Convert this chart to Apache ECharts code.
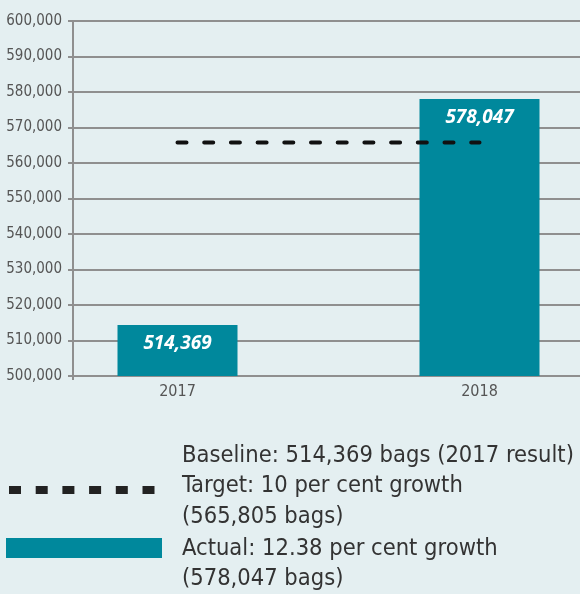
<!DOCTYPE html>
<html>
<head>
<meta charset="utf-8">
<script src="https://cdn.jsdelivr.net/npm/echarts@6/dist/echarts.min.js"></script>
<style>
html, body { margin: 0; padding: 0; background: #e4eff1; }
#chart { width: 580px; height: 594px; }
</style>
</head>
<body>
<div id="chart"></div>
<script>
// data
var years = [2017, 2018];
var bags = [514369, 578047];
var target = 565805;
var yTicks = [500000, 600000, 10000]; // min, max, step
var legendLines = [
    'Baseline: 514,369 bags (2017 result)',
    'Target: 10 per cent growth',
    '(565,805 bags)',
    'Actual: 12.38 per cent growth',
    '(578,047 bags)'
];

var teal = '#00889c';
var grey = '#8f8f8f';
var narrow = '"DejaVu Sans Condensed", sans-serif';

var xMin = 2017 - 104.5 / 302;
var xMax = 2017 + 402.5 / 302;

var myChart = echarts.init(document.getElementById('chart'));

// legend drawn by hand, text lines to the right of the two swatches
var legendY = [455, 485, 516, 548, 578];
var graphics = legendLines.map(function (t, i) {
    return {
        type: 'text', left: 182, top: legendY[i] - 11,
        style: { text: t, fill: '#333', font: '23.5px ' + narrow }
    };
});
graphics.push({
    type: 'line',
    shape: { x1: 9, y1: 490, x2: 162, y2: 490 },
    style: { stroke: '#222', lineWidth: 8, lineDash: [12, 14.7] }
});
graphics.push({
    type: 'rect',
    shape: { x: 6, y: 538, width: 156, height: 20 },
    style: { fill: teal }
});

myChart.setOption({
    backgroundColor: '#e4eff1',
    animation: false,
    grid: { left: 73, right: 0, top: 21, bottom: 218, containLabel: false, outerBoundsMode: 'none' },
    xAxis: {
        type: 'value',
        min: xMin,
        max: xMax,
        splitLine: { show: false },
        axisLine: { show: true, onZero: false, lineStyle: { color: grey, width: 2 } },
        axisTick: { show: true, customValues: [xMin], length: 4, lineStyle: { color: grey, width: 2 } },
        axisLabel: {
            customValues: years,
            formatter: function (v) { return String(v); },
            color: '#555',
            fontFamily: narrow,
            fontSize: 16,
            margin: 8
        }
    },
    yAxis: {
        type: 'value',
        min: yTicks[0],
        max: yTicks[1],
        interval: yTicks[2],
        axisLine: { show: true, lineStyle: { color: grey, width: 2 } },
        axisTick: { show: true, length: 5, lineStyle: { color: grey, width: 2 } },
        splitLine: { show: true, lineStyle: { color: grey, width: 2 } },
        axisLabel: {
            color: '#555',
            fontFamily: narrow,
            fontSize: 15,
            margin: 11,
            formatter: function (v) { return v.toLocaleString('en-US'); }
        }
    },
    series: [
        {
            type: 'bar',
            barWidth: 120,
            itemStyle: { color: teal },
            data: years.map(function (y, i) { return [y, bags[i]]; }),
            label: {
                show: true,
                position: 'insideTop',
                distance: 9,
                color: '#fff',
                fontFamily: '"Open Sans", sans-serif',
                fontStyle: 'italic',
                fontWeight: 'bold',
                fontSize: 19,
                formatter: function (p) { return p.value[1].toLocaleString('en-US'); }
            },
            z: 2
        },
        {
            type: 'line',
            symbol: 'none',
            data: years.map(function (y) { return [y, target]; }),
            lineStyle: { color: '#111', width: 4, type: [9, 17.7], cap: 'round' },
            z: 3
        }
    ],
    graphic: graphics
});
</script>
</body>
</html>
